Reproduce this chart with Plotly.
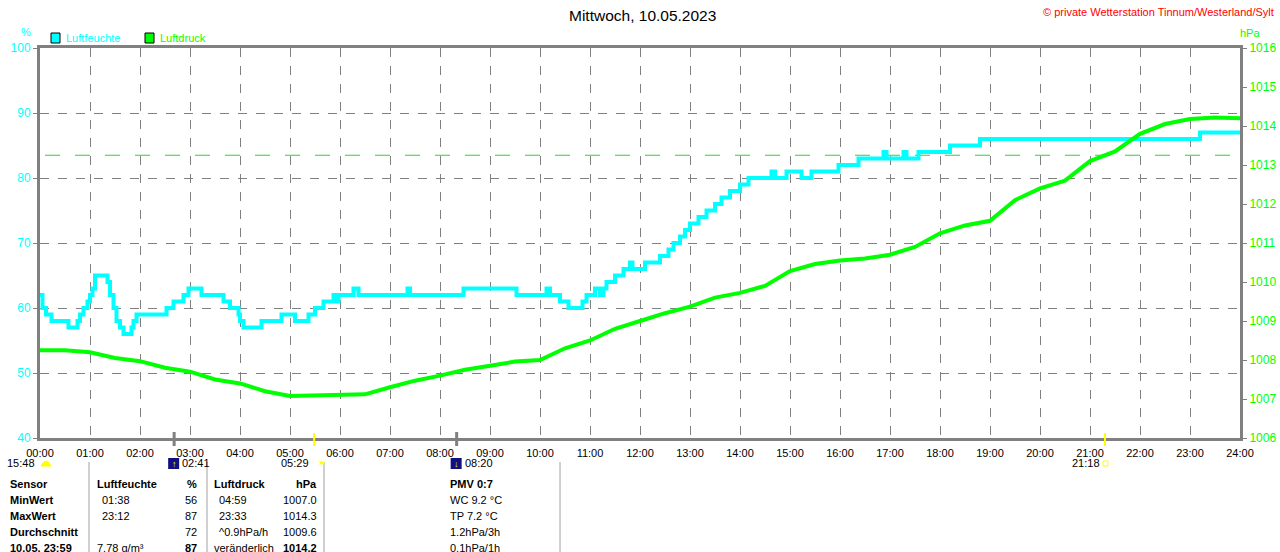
import plotly.graph_objects as go

# humidity (%), step changes: hour -> value
hum_hours = [0.0, 0.05, 0.12, 0.23, 0.57, 0.75, 0.8, 0.87, 0.95, 1.0, 1.05, 1.1,
             1.35, 1.4, 1.47, 1.53, 1.6, 1.67, 1.83, 1.87, 1.93, 2.53, 2.67, 2.87,
             2.97, 3.23, 3.67, 3.8, 3.97, 4.0, 4.07, 4.43, 4.83, 5.1, 5.37, 5.5,
             5.67, 5.87, 5.92, 5.97, 6.27, 6.37, 7.35, 7.4, 8.47, 9.53, 10.13, 10.2,
             10.4, 10.57, 10.85, 10.93, 11.1, 11.2, 11.27, 11.33, 11.5, 11.67, 11.8,
             11.85, 12.1, 12.4, 12.57, 12.67, 12.8, 12.9, 13.0, 13.17, 13.33, 13.5,
             13.63, 13.8, 14.0, 14.17, 14.63, 14.7, 14.93, 15.23, 15.43, 15.97,
             16.37, 16.87, 16.93, 17.27, 17.33, 17.57, 18.2, 18.8, 23.2, 24.0]
hum_values = [62, 60, 59, 58, 57, 58, 59, 60, 61, 62, 63, 65,
              64, 62, 60, 58, 57, 56, 57, 58, 59, 60, 61, 62,
              63, 62, 61, 60, 59, 58, 57, 58, 59, 58, 59, 60,
              61, 62, 61, 62, 63, 62, 63, 62, 63, 62, 63, 62,
              61, 60, 61, 62, 63, 62, 63, 64, 65, 66, 67,
              66, 67, 68, 69, 70, 71, 72, 73, 74, 75, 76,
              77, 78, 79, 80, 81, 80, 81, 80, 81, 82,
              83, 84, 83, 84, 83, 84, 85, 86, 87, 87]

# air pressure (hPa), every 30 minutes
press_hours = [i * 0.5 for i in range(49)]
press_values = [1008.25, 1008.25, 1008.2, 1008.05, 1007.97, 1007.8, 1007.7, 1007.5,
                1007.4, 1007.2, 1007.08, 1007.1, 1007.12, 1007.12, 1007.3, 1007.47,
                1007.6, 1007.75, 1007.85, 1007.96, 1008.0, 1008.3, 1008.5, 1008.8,
                1009.0, 1009.2, 1009.37, 1009.6, 1009.72, 1009.9, 1010.28, 1010.46,
                1010.55, 1010.6, 1010.7, 1010.9, 1011.25, 1011.45, 1011.57, 1012.1,
                1012.4, 1012.6, 1013.1, 1013.35, 1013.8, 1014.05, 1014.18, 1014.22,
                1014.2]
press_ref = 1013.25

hour_ticks = list(range(25))
hour_labels = ["%02d:00" % h for h in hour_ticks]
hum_ticks = [40, 50, 60, 70, 80, 90, 100]
press_ticks = list(range(1006, 1017))

# sun / moon events: label, hour, kind
events = [("15:48", 0.0, "moonprev"), ("02:41", 2.683, "moonrise"),
          ("05:29", 5.483, "sunrise"), ("08:20", 8.333, "moonset"),
          ("21:18", 21.3, "sunset")]

# table below the chart
tbl_rows = ["Sensor", "MinWert", "MaxWert", "Durchschnitt", "10.05. 23:59"]
hum_col_a = ["Luftfeuchte", "01:38", "23:12", "", "7.78 g/m³"]
hum_col_b = ["%", "56", "87", "72", "87"]
press_col_a = ["Luftdruck", "04:59", "23:33", "^0.9hPa/h", "veränderlich"]
press_col_b = ["hPa", "1007.0", "1014.3", "1009.6", "1014.2"]
extra_col = ["PMV 0:7", "WC 9.2 °C", "TP 7.2 °C", "1.2hPa/3h", "0.1hPa/1h"]

CYAN = "#00FFFF"
GREEN = "#00FF00"
GRAY = "#808080"
FONT = "Liberation Sans"

W, H = 1280, 552
L, R, T, B = 40, 1240, 48, 438


def px(x):
    return (x - L) / (R - L)


def py(y):
    return (B - y) / (B - T)


def note(x, y, text, color="black", size=11, anchor="center", family=FONT):
    return dict(x=px(x), y=py(y), xref="paper", yref="paper", text=text,
                showarrow=False, xanchor=anchor, yanchor="middle",
                font=dict(family=family, size=size, color=color))


fig = go.Figure()
fig.add_trace(go.Scatter(x=hum_hours, y=hum_values, mode="lines", line_shape="hv",
                         line=dict(color=CYAN, width=4), showlegend=False))
fig.add_trace(go.Scatter(x=press_hours, y=press_values, yaxis="y2", mode="lines",
                         line=dict(color=GREEN, width=4), showlegend=False))

shapes = []
annos = []

# 1013.25 reference line
shapes.append(dict(type="line", xref="x", yref="y2", x0=0.1, x1=23.8,
                   y0=press_ref, y1=press_ref, layer="below",
                   line=dict(color="rgb(40,215,40)", width=1, dash="longdash")))

# event ticks and labels
for lab, hr, kind in events:
    xp = L + hr * (R - L) / 24.0
    if kind in ("moonrise", "moonset"):
        shapes.append(dict(type="line", xref="x", yref="paper", x0=hr, x1=hr,
                           y0=py(446), y1=py(432), line=dict(color=GRAY, width=3)))
        shapes.append(dict(type="rect", xref="paper", yref="paper",
                           x0=px(xp - 6), x1=px(xp + 5), y0=py(469), y1=py(458),
                           fillcolor="#101080", line=dict(width=0)))
        annos.append(note(xp, 463.5, "↑" if kind == "moonrise" else "↓",
                          color="yellow", size=9))
        annos.append(note(xp + 6, 463, lab, anchor="left"))
    else:
        if kind != "moonprev":
            shapes.append(dict(type="line", xref="x", yref="paper", x0=hr, x1=hr,
                               y0=py(446), y1=py(433), line=dict(color="yellow", width=2)))
        annos.append(note(xp - 3, 463, lab, anchor="right"))
        if kind == "sunrise":
            annos.append(note(xp + 1, 463, "☀", color="yellow", anchor="left",
                              family="DejaVu Sans"))
        elif kind == "sunset":
            shapes.append(dict(type="rect", xref="paper", yref="paper",
                               x0=px(xp - 2), x1=px(xp + 3), y0=py(466), y1=py(461),
                               line=dict(color="yellow", width=1)))
        else:
            shapes.append(dict(type="path", xref="paper", yref="paper",
                               path="M %f,%f Q %f,%f %f,%f Z" % (
                                   px(xp + 1), py(466), px(xp + 6), py(456),
                                   px(xp + 11), py(466)),
                               fillcolor="yellow", line=dict(color="yellow", width=1)))

# legend boxes
for x0, col, name in [(51, CYAN, "Luftfeuchte"), (145, GREEN, "Luftdruck")]:
    shapes.append(dict(type="rect", xref="paper", yref="paper",
                       x0=px(x0), x1=px(x0 + 9), y0=py(43), y1=py(33),
                       fillcolor=col, line=dict(color="black", width=1)))
    annos.append(note(x0 + 13, 38, name, color=col, anchor="left"))

annos.append(note(26, 32, "%", color=CYAN))
annos.append(note(1250, 33, "hPa", color=GREEN))
annos.append(note(642, 15, "Mittwoch, 10.05.2023", size=15.5))
annos.append(note(1276, 12, "© private Wetterstation Tinnum/Westerland/Sylt",
                  color="red", anchor="right"))

# table
row_y = [484, 500, 516, 532, 548]
for i, yy in enumerate(row_y):
    head = i == 0
    last = i == len(row_y) - 1

    def t(txt, x, anchor="left", bold=False):
        if txt:
            annos.append(note(x, yy, "<b>%s</b>" % txt if bold else txt, anchor=anchor))

    t(tbl_rows[i], 8, bold=True)
    t(hum_col_a[i], 95 if head or last else 100, bold=head)
    t(hum_col_b[i], 199, "right", bold=head or last)
    t(press_col_a[i], 212 if head or last else 217, bold=head)
    t(press_col_b[i], 319, "right", bold=head or last)
    t(extra_col[i], 448, bold=head)

for xs in [89, 207, 324, 560]:
    shapes.append(dict(type="line", xref="paper", yref="paper", x0=px(xs), x1=px(xs),
                       y0=py(462), y1=py(560), line=dict(color="#a0a0a0", width=1)))

fig.update_layout(
    width=W, height=H, autosize=False,
    margin=dict(l=L, r=W - R, t=T, b=H - B, pad=0, autoexpand=False),
    paper_bgcolor="white", plot_bgcolor="white",
    font=dict(family=FONT, size=11, color="black"),
    xaxis=dict(range=[0, 24], tickvals=hour_ticks, ticktext=hour_labels,
               showgrid=True, gridcolor=GRAY, griddash="dash", gridwidth=1,
               showline=True, linecolor=GRAY, linewidth=3, mirror=True,
               ticks="", ticklabelstandoff=3, zeroline=False, automargin=False,
               tickfont=dict(family=FONT, size=11, color="black")),
    yaxis=dict(range=[40, 100], tickvals=hum_ticks, showgrid=True, gridcolor=GRAY,
               griddash="dash", gridwidth=1, showline=True, linecolor=GRAY,
               linewidth=3, ticks="outside", ticklen=4, tickcolor=GRAY,
               zeroline=False, automargin=False,
               tickfont=dict(family=FONT, size=12, color=CYAN)),
    yaxis2=dict(range=[1006, 1016], tickvals=press_ticks, overlaying="y", side="right",
                showgrid=False, showline=True, linecolor=GRAY, linewidth=3,
                ticks="outside", ticklen=4, tickcolor=GRAY, zeroline=False,
                automargin=False, tickfont=dict(family=FONT, size=12, color=GREEN)),
    shapes=shapes, annotations=annos,
)

fig.write_html("out.html", config={"displayModeBar": False, "responsive": False},
               post_script="document.body.style.margin='0';"
                           "document.body.style.overflow='hidden';")
